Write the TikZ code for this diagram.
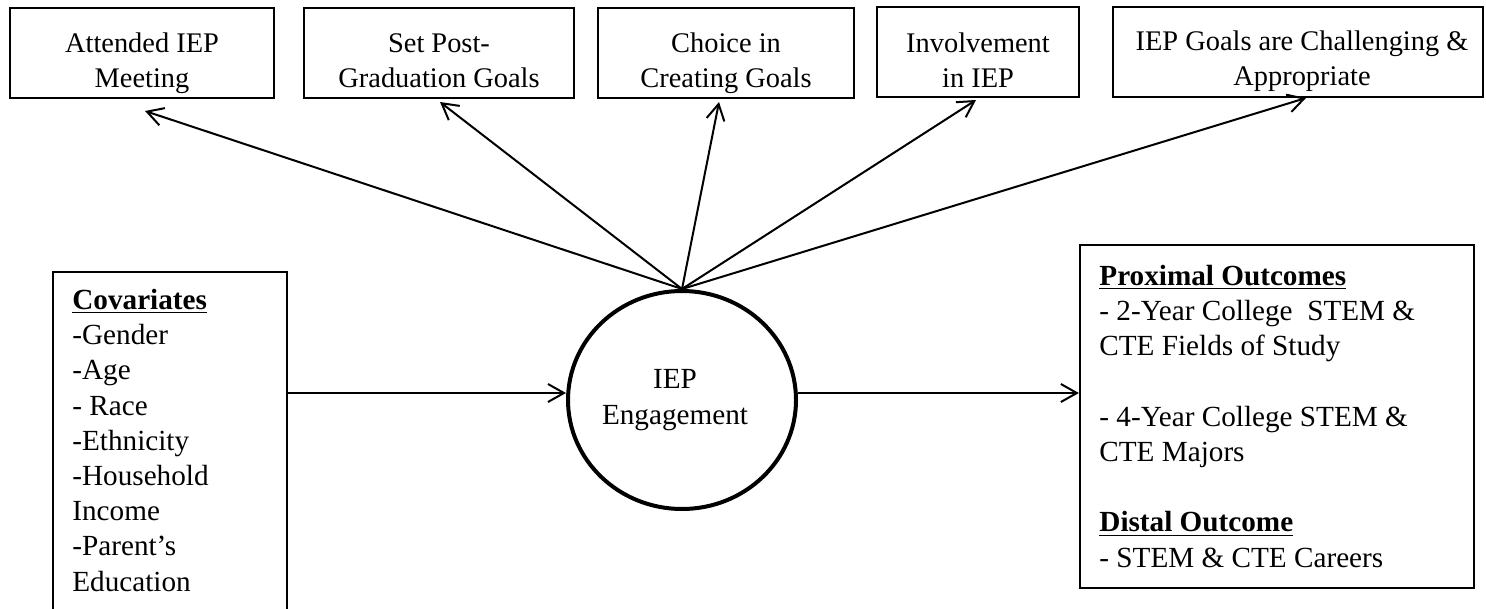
\documentclass[tikz,border=0pt]{standalone}
\usepackage{fontspec}
\setmainfont{Liberation Serif}
\usetikzlibrary{arrows.meta,shapes.geometric}
\begin{document}
\begin{tikzpicture}[x=0.5pt,y=-0.5pt,
  box/.style={draw, line width=1.1pt, inner sep=0pt, minimum height=45pt},
  txt/.style={font=\fontsize{14.2}{17.6}\selectfont, inner sep=0pt},
  bigtxt/.style={font=\fontsize{14.6}{17.6}\selectfont, inner sep=0pt},
  arr/.style={line width=1pt, -{Straight Barb[length=8pt,width=9pt]}},
]
\useasboundingbox (0,0) rectangle (1486,609);
% top boxes
\node[box, minimum width=132pt] (b1) at (142,53) {};
\node[box, minimum width=135pt] (b2) at (439,53) {};
\node[box, minimum width=128pt] (b3) at (726,53) {};
\node[box, minimum width=101pt] (b4) at (978,52) {};
\node[box, minimum width=185pt] (b5) at (1298,52) {};
% (anchor=base of a multi-line node is the baseline of its last line)
\node[txt, align=center, anchor=base] (t1) at (142,88) {Attended IEP\\Meeting};
\node[txt, align=center, anchor=base] (t2) at (439,88) {Set Post-\\Graduation Goals};
\node[txt, align=center, anchor=base] (t3) at (726,88) {Choice in\\Creating Goals};
\node[txt, align=center, anchor=base] (t4) at (978,88) {Involvement\\in IEP};
\node[txt, align=center, anchor=base] (t5) at (1302,86) {IEP Goals are Challenging \&\\Appropriate};
% engagement
\node[draw, ellipse, line width=2pt, minimum width=114pt, minimum height=109pt, inner sep=0pt] (e) at (682,400) {};
\node[bigtxt, align=center, anchor=base] (et) at (675,424) {IEP\\Engagement};
% left box
\node[box, minimum width=117pt, minimum height=172pt] (cov) at (170,444) {};
\node[bigtxt, align=left, anchor=base west] (covt) at (72,591) {\underline{\textbf{Covariates}}\\-Gender\\-Age\\- Race\\-Ethnicity\\-Household\\Income\\-Parent’s\\Education};
% right box
\node[box, minimum width=197pt, minimum height=171.5pt] (out) at (1277,416.5) {};
\node[bigtxt, align=left, anchor=base west] (outt) at (1099,567) {\underline{\textbf{Proximal Outcomes}}\\- 2-Year College\ \ STEM \&\\CTE Fields of Study\\[17.6pt]- 4-Year College STEM \&\\CTE Majors\\[17.6pt]\underline{\textbf{Distal Outcome}}\\- STEM \& CTE Careers};
% arrow tips
\coordinate (p1) at (145,111);
\coordinate (p2) at (440,102);
\coordinate (p3) at (719,102);
\coordinate (p4) at (976,100);
\coordinate (p5) at (1306,98);
\coordinate (ay) at (0,393);
\draw[arr] (e.north) -- (p1);
\draw[arr] (e.north) -- (p2);
\draw[arr] (e.north) -- (p3);
\draw[arr] (e.north) -- (p4);
\draw[arr] (e.north) -- (p5);
\draw[arr] (cov.east |- ay) -- (e.west |- ay);
\draw[arr] (e.east |- ay) -- (out.west |- ay);
\end{tikzpicture}
\end{document}
